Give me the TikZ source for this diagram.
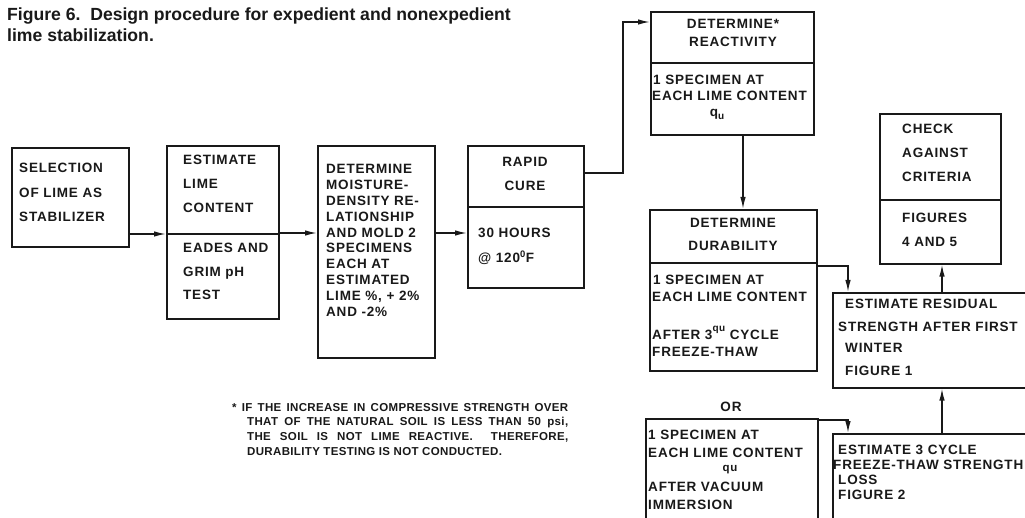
\documentclass[tikz,border=0pt]{standalone}
\usepackage{fontspec}
\setmainfont{Liberation Sans}[LetterSpace=6]
\newfontfamily\titlefont{Liberation Sans}
\newfontfamily\notefont{Liberation Sans}[LetterSpace=3]
\usetikzlibrary{arrows.meta}
\definecolor{ink}{gray}{0.1}
\newcommand\boxfont{\fontsize{13.5}{24}\selectfont\bfseries}
\newcommand\qsub{q\raisebox{-3pt}{\fontsize{10}{10}\selectfont u}}
\begin{document}
\begin{tikzpicture}[x=1pt,y=-1pt,
  box/.style={draw=ink, line width=1.6pt, inner sep=0pt, anchor=north west},
  txt/.style={inner sep=0pt, font=\boxfont, text=ink, align=left, anchor=north west},
  ctxt/.style={inner sep=0pt, font=\boxfont, text=ink, align=center, anchor=center},
  ltxt/.style={inner sep=0pt, font=\boxfont, text=ink, anchor=west},
  note/.style={inner sep=0pt, font=\notefont\fontsize{11.5}{12}\selectfont\bfseries, text=ink, anchor=west},
  arr/.style={draw=ink, line width=1.4pt, -{Latex[length=12pt,width=5.5pt]}},
  divl/.style={draw=ink, line width=1.6pt}]
\useasboundingbox (0,0) rectangle (1025,518);
\fill[white] (0,0) rectangle (1025,518);

% title
\node[inner sep=0pt, anchor=north west, align=left, text=ink,
  font=\titlefont\fontsize{17.6}{20.5}\selectfont\bfseries] (title) at (7,8)
  {Figure 6.\ \ Design procedure for expedient and nonexpedient\\lime stabilization.};

% boxes
\node[box, minimum width=117pt, minimum height=99pt]  (b1) at (11,147) {};
\node[box, minimum width=112pt, minimum height=173pt] (b2) at (166,145) {};
\node[box, minimum width=117pt, minimum height=212pt] (b3) at (317,145) {};
\node[box, minimum width=116pt, minimum height=142pt] (b4) at (467,145) {};
\node[box, minimum width=163pt, minimum height=123pt] (b5) at (650,11) {};
\node[box, minimum width=167pt, minimum height=161pt] (b6) at (649,209) {};
\node[box, minimum width=121pt, minimum height=150pt] (b8) at (879,113) {};
\node[box, minimum width=215pt, minimum height=95pt]  (b7) at (832,292) {};
\node[box, minimum width=172pt, minimum height=125pt] (b9) at (645,418) {};
\node[box, minimum width=215pt, minimum height=110pt] (b10) at (832,433) {};

% dividers
\draw[divl] (b2.west |- 0,234) -- (b2.east |- 0,234);
\draw[divl] (b4.west |- 0,207) -- (b4.east |- 0,207);
\draw[divl] (b5.west |- 0,63) -- (b5.east |- 0,63);
\draw[divl] (b6.west |- 0,263) -- (b6.east |- 0,263);
\draw[divl] (b8.west |- 0,200) -- (b8.east |- 0,200);

% texts
\node[txt, font=\fontsize{13.5}{24.5}\selectfont\bfseries] (t1) at (19,163) {SELECTION\\OF LIME AS\\STABILIZER};
\node[txt] (t2a) at (183,155) {ESTIMATE\\LIME\\CONTENT};
\node[txt, font=\fontsize{13.5}{23.5}\selectfont\bfseries] (t2b) at (183,243) {EADES AND\\GRIM pH\\TEST};
\node[txt, font=\fontsize{13.5}{15.9}\selectfont\bfseries] (t3) at (326,164)
  {DETERMINE\\MOISTURE-\\DENSITY RE-\\LATIONSHIP\\AND MOLD 2\\SPECIMENS\\EACH AT\\ESTIMATED\\LIME \%, + 2\%\\AND -2\%};
\node[ctxt] (t4a) at (525,162) {RAPID};
\node[ctxt] (t4b) at (525,186) {CURE};
\node[ltxt] (t4c) at (478,233) {30 HOURS};
\node[ltxt] (t4d) at (478,258) {@ 120\textsuperscript{0}F};

\node[ctxt] (t5a) at (733,24) {DETERMINE*};
\node[ctxt] (t5b) at (733,42) {REACTIVITY};
\node[ltxt] (t5c) at (653,80) {1 SPECIMEN AT};
\node[ltxt] (t5d) at (652,96) {EACH LIME CONTENT};
\node[ctxt] (t5e) at (717,114) {\qsub};

\node[ctxt] (t6a) at (733,223) {DETERMINE};
\node[ctxt] (t6b) at (733,246) {DURABILITY};
\node[ltxt] (t6c) at (653,280) {1 SPECIMEN AT};
\node[ltxt] (t6d) at (652,297) {EACH LIME CONTENT};
\node[ltxt] (t6e) at (652,333) {AFTER 3\raisebox{8pt}{\fontsize{10}{10}\selectfont qu} CYCLE};
\node[ltxt] (t6f) at (652,352) {FREEZE-THAW};

\node[txt] (t8a) at (902,124) {CHECK\\AGAINST\\CRITERIA};
\node[txt] (t8b) at (902,213) {FIGURES\\4 AND 5};

\node[ltxt] (t7a) at (845,304) {ESTIMATE RESIDUAL};
\node[ltxt] (t7b) at (838,327) {STRENGTH AFTER FIRST};
\node[ltxt] (t7c) at (845,348) {WINTER};
\node[ltxt] (t7d) at (845,371) {FIGURE 1};

\node[ctxt] (tor) at (731,407) {OR};
\node[ltxt] (t9a) at (648,435) {1 SPECIMEN AT};
\node[ltxt] (t9b) at (648,453) {EACH LIME CONTENT};
\node[ctxt] (t9c) at (730,470) {\fontsize{11.5}{11.5}\selectfont qu};
\node[ltxt] (t9d) at (648,487) {AFTER VACUUM};
\node[ltxt] (t9e) at (648,505) {IMMERSION};

\node[ltxt] (t10a) at (838,450) {ESTIMATE 3 CYCLE};
\node[ltxt] (t10b) at (833,465) {FREEZE-THAW STRENGTH};
\node[ltxt] (t10c) at (838,480) {LOSS};
\node[ltxt] (t10d) at (838,495) {FIGURE 2};

% footnote
\node[note] (n1) at (232,408) {\makebox[336pt][s]{* IF THE INCREASE IN COMPRESSIVE STRENGTH OVER}};
\node[note] (n2) at (247,423) {\makebox[321pt][s]{THAT OF THE NATURAL SOIL IS LESS THAN 50 psi,}};
\node[note] (n3) at (247,437) {\makebox[321pt][s]{THE SOIL IS NOT LIME REACTIVE.\ \ THEREFORE,}};
\node[note] (n4) at (247,452) {DURABILITY TESTING IS NOT CONDUCTED.};

% connectors
\draw[arr] (b1.east |- 0,234) -- (b2.west |- 0,234);
\draw[arr] (b2.east |- 0,233) -- (b3.west |- 0,233);
\draw[arr] (b3.east |- 0,233) -- (b4.west |- 0,233);
\draw[arr] (b4.east |- 0,173) -- (623,173) -- (623,22) -- (b5.west |- 0,22);
\draw[arr] (743,0 |- b5.south) -- (743,0 |- b6.north);
\draw[arr] (b6.east |- 0,266) -- (848,266) -- (848,0 |- b7.north);
\draw[arr] (b9.east |- 0,420) -- (848,420) -- (848,0 |- b10.north);
\draw[arr] (942,0 |- b10.north) -- (942,0 |- b7.south);
\draw[arr] (942,0 |- b7.north) -- (942,0 |- b8.south);
\end{tikzpicture}
\end{document}
